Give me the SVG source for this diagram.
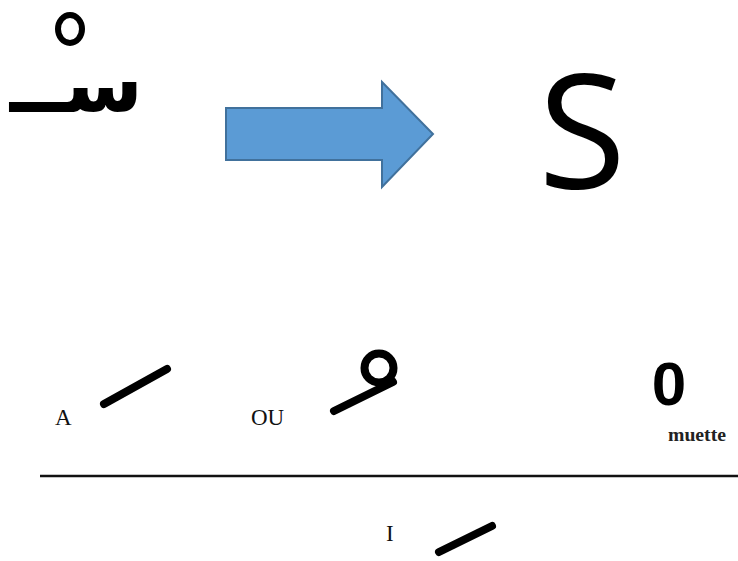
<svg xmlns="http://www.w3.org/2000/svg" width="738" height="561" viewBox="0 0 738 561">
<style>
.lbl{font-family:"Liberation Serif","Times New Roman",serif;font-size:23px;fill:#111}
.mark{fill:none;stroke:#000;stroke-width:8;stroke-linecap:round;stroke-linejoin:round}
</style>
<rect width="738" height="561" fill="#fff"/>
<g id="arabic-sin">
<text x="143" y="112" font-family="'DejaVu Sans',sans-serif" font-weight="bold" font-size="80" text-anchor="end" fill="#000">ســ</text>
<ellipse cx="70" cy="29" rx="12" ry="14" fill="none" stroke="#000" stroke-width="6"/>
</g>
<g id="arrow">
<polygon points="226,108 382,108 382,82 433,134 382,187 382,160 226,160" fill="#5b9bd5" stroke="#41719c" stroke-width="2"/>
</g>
<g id="latin-s">
<text x="582" y="188" font-family="'Open Sans',sans-serif" font-size="160" text-anchor="middle" fill="#000">S</text>
</g>
<g id="fatha">
<text class="lbl" x="55" y="425">A</text>
<line class="mark" x1="104" y1="404" x2="167" y2="369"/>
</g>
<g id="damma">
<text class="lbl" x="251" y="425">OU</text>
<path class="mark" d="M334,411 L393,382"/>
<circle class="mark" cx="379" cy="368" r="14.5" stroke-width="10"/>
</g>
<g id="sukun">
<text x="669" y="405" font-family="'Liberation Sans',Arial,sans-serif" font-weight="bold" font-size="62" text-anchor="middle" fill="#000">0</text>
<text x="697" y="441" font-family="'Liberation Serif','Times New Roman',serif" font-weight="bold" font-size="18" text-anchor="middle" fill="#222" textLength="58" lengthAdjust="spacingAndGlyphs">muette</text>
</g>
<g id="connectors">
<line x1="40" y1="476" x2="738" y2="476" stroke="#111" stroke-width="2.5"/>
</g>
<g id="kasra">
<text class="lbl" x="386" y="541">I</text>
<line class="mark" x1="439" y1="552" x2="492" y2="526"/>
</g>
</svg>
